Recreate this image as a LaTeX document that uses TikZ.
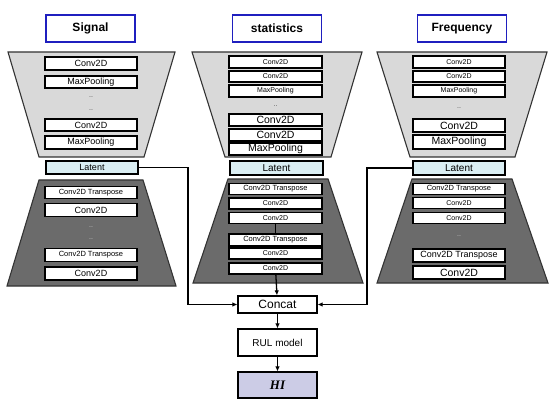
\documentclass[tikz,border=0pt]{standalone}
\usepackage{fontspec}
\setmainfont{Liberation Sans}
\newfontfamily\hifont{Liberation Serif}
\usetikzlibrary{arrows.meta}
\definecolor{encgray}{HTML}{D9D9D9}
\definecolor{decgray}{HTML}{6B6B6B}
\definecolor{latentblue}{HTML}{DAEEF3}
\definecolor{hilavender}{HTML}{CCCCE6}
\definecolor{titleblue}{HTML}{1F1FBF}
\tikzset{
  layer/.style={draw, fill=white, line width=1.2pt, inner sep=0pt,
    minimum width=92pt, minimum height=12pt, font=\fontsize{9}{10}\selectfont},
  thinlayer/.style={layer, minimum height=11pt, font=\fontsize{7}{8}\selectfont},
  latent/.style={layer, fill=latentblue, minimum height=13pt},
  title/.style={draw=titleblue, line width=1.8pt, fill=white, inner sep=0pt,
    minimum width=89pt, minimum height=27pt, font=\bfseries\fontsize{12}{13}\selectfont},
  dots/.style={inner sep=0pt, text=black!70, font=\fontsize{7}{8}\selectfont},
  encoder/.style={draw=black!80, fill=encgray, line width=1.1pt},
  decoder/.style={draw=black!80, fill=decgray, line width=1.1pt},
  headbox/.style={draw, fill=white, line width=1.2pt, inner sep=0pt, minimum width=79pt},
  link/.style={line width=1.3pt},
  arrow/.style={link, -{Latex[length=5pt,width=4.5pt]}}
}
\begin{document}
\begin{tikzpicture}[x=1pt,y=-1pt]
  \useasboundingbox (0,0) rectangle (550,404);

  % ---- Signal branch
  \node[title] (sigtitle) at (90.5,28.5) {Signal};
  \draw[encoder] (8,52) -- (175,52) -- (144,157) -- (39,157) -- cycle;
  \node[layer, minimum height=13pt] (sige1) at (91,63.5) {Conv2D};
  \node[layer] (sige2) at (91,82) {MaxPooling};
  \node[dots] (sigd1) at (91,97) {..};
  \node[dots] (sigd2) at (91,110) {..};
  \node[layer] (sige3) at (91,125) {Conv2D};
  \node[layer, minimum height=13pt] (sige4) at (91,142.5) {MaxPooling};
  \node[latent] (siglat) at (92,167.5) {Latent};
  \draw[decoder] (39,180) -- (143,180) -- (176,286) -- (7,286) -- cycle;
  \node[layer, font=\fontsize{7.5}{8}\selectfont] (sigd3) at (91,192.5) {Conv2D Transpose};
  \node[layer, minimum height=13pt] (sigd4) at (91,210) {Conv2D};
  \node[dots, text=black!20] (sigd5) at (91,227) {..};
  \node[dots, text=black!20] (sigd6) at (91,239) {..};
  \node[layer, minimum height=13pt, font=\fontsize{7.5}{8}\selectfont] (sigd7) at (91,255) {Conv2D Transpose};
  \node[layer, minimum height=13pt] (sigd8) at (91,273.5) {Conv2D};

  % ---- statistics branch
  \node[title] (stattitle) at (277,28.5) {statistics};
  \draw[encoder] (192,52) -- (362,52) -- (331,157) -- (225,157) -- cycle;
  \node[thinlayer, minimum width=93pt, minimum height=12pt] (state1) at (275.5,62) {Conv2D};
  \node[thinlayer, minimum width=93pt] (state2) at (275.5,76.5) {Conv2D};
  \node[thinlayer, minimum width=93pt, minimum height=12pt] (state3) at (275.5,91) {MaxPooling};
  \node[dots] (statd1) at (275.5,106) {..};
  \node[layer, minimum width=93pt, font=\fontsize{10.5}{11}\selectfont] (state4) at (275.5,120) {Conv2D};
  \node[layer, minimum width=93pt, font=\fontsize{10.5}{11}\selectfont] (state5) at (275.5,135) {Conv2D};
  \node[layer, minimum width=93pt, font=\fontsize{10.5}{11}\selectfont] (state6) at (275.5,149) {MaxPooling};
  \node[latent, minimum width=93pt, minimum height=14pt, font=\fontsize{10}{11}\selectfont] (statlat) at (276.5,168) {Latent};
  \draw[decoder] (228,179) -- (328,179) -- (363,283) -- (193,283) -- cycle;
  \node[thinlayer, minimum width=93pt, font=\fontsize{7.5}{8}\selectfont] (statd2) at (275.5,189) {Conv2D Transpose};
  \node[thinlayer, minimum width=93pt] (statd3) at (275.5,203.5) {Conv2D};
  \node[thinlayer, minimum width=93pt] (statd4) at (275.5,218) {Conv2D};
  \node[thinlayer, minimum width=93pt, minimum height=12pt, font=\fontsize{7.5}{8}\selectfont] (statd5) at (275.5,240) {Conv2D Transpose};
  \node[thinlayer, minimum width=93pt] (statd6) at (275.5,253.5) {Conv2D};
  \node[thinlayer, minimum width=93pt] (statd7) at (275.5,268.5) {Conv2D};
  \draw[line width=1.1pt] (statd4) -- (statd5);

  % ---- Frequency branch
  \node[title] (freqtitle) at (462,28.5) {Frequency};
  \draw[encoder] (377,52) -- (547,52) -- (515,157) -- (410,157) -- cycle;
  \node[thinlayer, minimum height=12pt] (freqe1) at (459,62) {Conv2D};
  \node[thinlayer] (freqe2) at (459,76.5) {Conv2D};
  \node[thinlayer, minimum height=12pt] (freqe3) at (459,91) {MaxPooling};
  \node[dots] (freqd1) at (459,108) {..};
  \node[layer, minimum height=13pt, font=\fontsize{10.5}{11}\selectfont] (freqe4) at (459,125.5) {Conv2D};
  \node[layer, minimum height=14pt, font=\fontsize{10.5}{11}\selectfont] (freqe5) at (459,142) {MaxPooling};
  \node[latent, minimum height=14pt, font=\fontsize{10}{11}\selectfont] (freqlat) at (459,168) {Latent};
  \draw[decoder] (412,179) -- (512,179) -- (548,283) -- (377,283) -- cycle;
  \node[thinlayer, font=\fontsize{7.5}{8}\selectfont] (freqd2) at (459,189) {Conv2D Transpose};
  \node[thinlayer] (freqd3) at (459,203) {Conv2D};
  \node[thinlayer] (freqd4) at (459,218) {Conv2D};
  \node[dots, text=black!20] (freqd5) at (459,236) {..};
  \node[layer, minimum height=13pt] (freqd6) at (459,255.5) {Conv2D Transpose};
  \node[layer, minimum height=13pt, font=\fontsize{10.5}{11}\selectfont] (freqd7) at (459,272.5) {Conv2D};

  % ---- head
  \node[headbox, minimum height=17pt, font=\fontsize{12}{13}\selectfont] (concat) at (277.5,304.5) {Concat};
  \node[headbox, minimum height=27pt, font=\fontsize{10}{11}\selectfont] (rul) at (277.5,342.5) {RUL model};
  \node[headbox, fill=hilavender, minimum height=26pt, font=\hifont\bfseries\itshape\fontsize{13}{14}\selectfont] (hi) at (277.5,385) {HI};

  % connectors
  \coordinate (sigbend) at (188,167.5);
  \coordinate (freqbend) at (367,168);
  \draw[arrow] (siglat.east) -- (sigbend) |- (concat.west);
  \draw[arrow] (freqlat.west) -- (freqbend) |- (concat.east);
  \draw[arrow] (statd7) -- (concat);
  \draw[arrow] (concat) -- (rul);
  \draw[arrow] (rul) -- (hi);
\end{tikzpicture}
\end{document}
